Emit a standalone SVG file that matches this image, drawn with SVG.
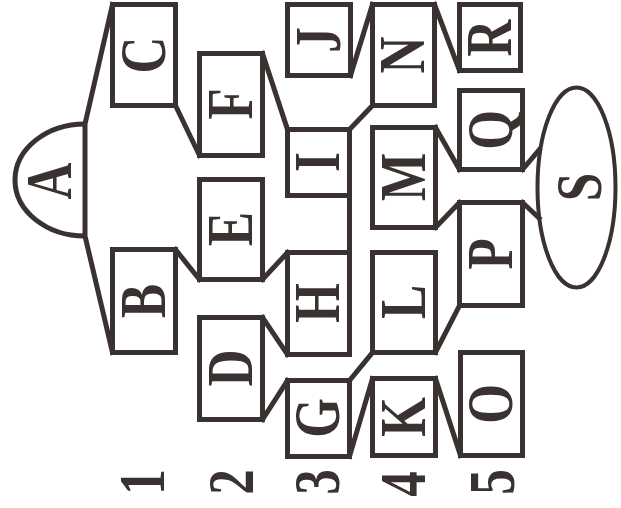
<svg xmlns="http://www.w3.org/2000/svg" width="621" height="508" viewBox="0 0 621 508">
<style>
.b{fill:none;stroke:#3a3131;stroke-width:5;stroke-linejoin:miter}
.c{fill:none;stroke:#3a3131;stroke-width:5;stroke-linecap:square}
.t{font-family:"Liberation Serif","DejaVu Serif",serif;font-weight:bold;font-size:58px;fill:#3a3131;text-anchor:middle}
</style>
<rect width="621" height="508" fill="#ffffff"/>
<g id="connectors">
<path class="c" d="M112.5,4.5 L85,124 L85,236 L112.5,352.5"/>
<path class="c" d="M175.5,105.5 L199.5,155.5"/>
<path class="c" d="M175.5,249.5 L199.5,279.5"/>
<path class="c" d="M262.5,53.5 L287.5,129.5"/>
<path class="c" d="M262.5,279.5 L287.5,252.5"/>
<path class="c" d="M262.5,317.5 L287.5,354.5"/>
<path class="c" d="M262.5,419.5 L287.5,380.5"/>
<path class="c" d="M349.5,195.5 L349.5,252.5"/>
<path class="c" d="M349.5,129.5 L372.5,105.5"/>
<path class="c" d="M350.5,75.5 L372.5,4.5"/>
<path class="c" d="M349.5,380.5 L372.5,352.5"/>
<path class="c" d="M349.5,456.5 L372.5,378.5"/>
<path class="c" d="M434.5,4.5 L459.5,70.5"/>
<path class="c" d="M435.5,127.5 L459.5,169.5"/>
<path class="c" d="M435.5,227.5 L459.5,202.5"/>
<path class="c" d="M435.5,352.5 L459.5,305.5"/>
<path class="c" d="M435.5,378.5 L460.5,455.5"/>
<path class="c" d="M522.5,169.5 L539,150"/>
<path class="c" d="M522.5,202.5 L539,218"/>
</g>
<g id="A"><path class="b" d="M85,124 A70,56 0 0 0 85,236"/><text class="t" transform="translate(50,181) rotate(-90) scale(0.88,1.12)" dy="0.33em">A</text></g>
<g id="B"><rect class="b" x="112.5" y="249.5" width="63" height="103"/><text class="t" transform="translate(144,301) rotate(-90) scale(0.88,1.12)" dy="0.33em">B</text></g>
<g id="C"><rect class="b" x="112.5" y="4.5" width="63" height="101"/><text class="t" transform="translate(144,55) rotate(-90) scale(0.88,1.12)" dy="0.33em">C</text></g>
<g id="D"><rect class="b" x="199.5" y="317.5" width="63" height="102"/><text class="t" transform="translate(231,368) rotate(-90) scale(0.88,1.12)" dy="0.33em">D</text></g>
<g id="E"><rect class="b" x="199.5" y="179.5" width="63" height="100"/><text class="t" transform="translate(231,229) rotate(-90) scale(0.88,1.12)" dy="0.33em">E</text></g>
<g id="F"><rect class="b" x="199.5" y="53.5" width="63" height="102"/><text class="t" transform="translate(231,104) rotate(-90) scale(0.88,1.12)" dy="0.33em">F</text></g>
<g id="G"><rect class="b" x="287.5" y="380.5" width="62" height="76"/><text class="t" transform="translate(318,418) rotate(-90) scale(0.88,1.12)" dy="0.33em">G</text></g>
<g id="H"><rect class="b" x="287.5" y="252.5" width="62" height="102"/><text class="t" transform="translate(318,303) rotate(-90) scale(0.88,1.12)" dy="0.33em">H</text></g>
<g id="I"><rect class="b" x="287.5" y="129.5" width="62" height="66"/><text class="t" transform="translate(318,162) rotate(-90) scale(0.88,1.12)" dy="0.33em">I</text></g>
<g id="J"><rect class="b" x="287.5" y="4.5" width="63" height="71"/><text class="t" transform="translate(319,40) rotate(-90) scale(0.88,1.12)" dy="0.33em">J</text></g>
<g id="K"><rect class="b" x="372.5" y="378.5" width="63" height="77"/><text class="t" transform="translate(404,417) rotate(-90) scale(0.88,1.12)" dy="0.33em">K</text></g>
<g id="L"><rect class="b" x="372.5" y="252.5" width="63" height="100"/><text class="t" transform="translate(404,302) rotate(-90) scale(0.88,1.12)" dy="0.33em">L</text></g>
<g id="M"><rect class="b" x="372.5" y="127.5" width="63" height="100"/><text class="t" transform="translate(404,177) rotate(-90) scale(0.88,1.12)" dy="0.33em">M</text></g>
<g id="N"><rect class="b" x="372.5" y="4.5" width="62" height="101"/><text class="t" transform="translate(403,55) rotate(-90) scale(0.88,1.12)" dy="0.33em">N</text></g>
<g id="O"><rect class="b" x="460.5" y="352.5" width="62" height="103"/><text class="t" transform="translate(491,404) rotate(-90) scale(0.88,1.12)" dy="0.33em">O</text></g>
<g id="P"><rect class="b" x="459.5" y="202.5" width="63" height="103"/><text class="t" transform="translate(491,254) rotate(-90) scale(0.88,1.12)" dy="0.33em">P</text></g>
<g id="Q"><rect class="b" x="459.5" y="90.5" width="63" height="79"/><text class="t" transform="translate(491,130) rotate(-90) scale(0.88,1.12)" dy="0.33em">Q</text></g>
<g id="R"><rect class="b" x="459.5" y="4.5" width="61" height="66"/><text class="t" transform="translate(490,38) rotate(-90) scale(0.88,1.12)" dy="0.33em">R</text></g>
<g id="S"><ellipse class="b" cx="576.5" cy="187.5" rx="39" ry="100" style="stroke-width:4"/><text class="t" transform="translate(580,187) rotate(-90) scale(0.88,1.12)" dy="0.33em">S</text></g>
<g id="numbers">
<text class="t" transform="translate(143,482) rotate(-90) scale(0.88,1.12)" dy="0.33em">1</text>
<text class="t" transform="translate(232,482) rotate(-90) scale(0.88,1.12)" dy="0.33em">2</text>
<text class="t" transform="translate(318,482) rotate(-90) scale(0.88,1.12)" dy="0.33em">3</text>
<text class="t" transform="translate(404,484) rotate(-90) scale(0.88,1.12)" dy="0.33em">4</text>
<text class="t" transform="translate(493,482) rotate(-90) scale(0.88,1.12)" dy="0.33em">5</text>
</g>
</svg>
